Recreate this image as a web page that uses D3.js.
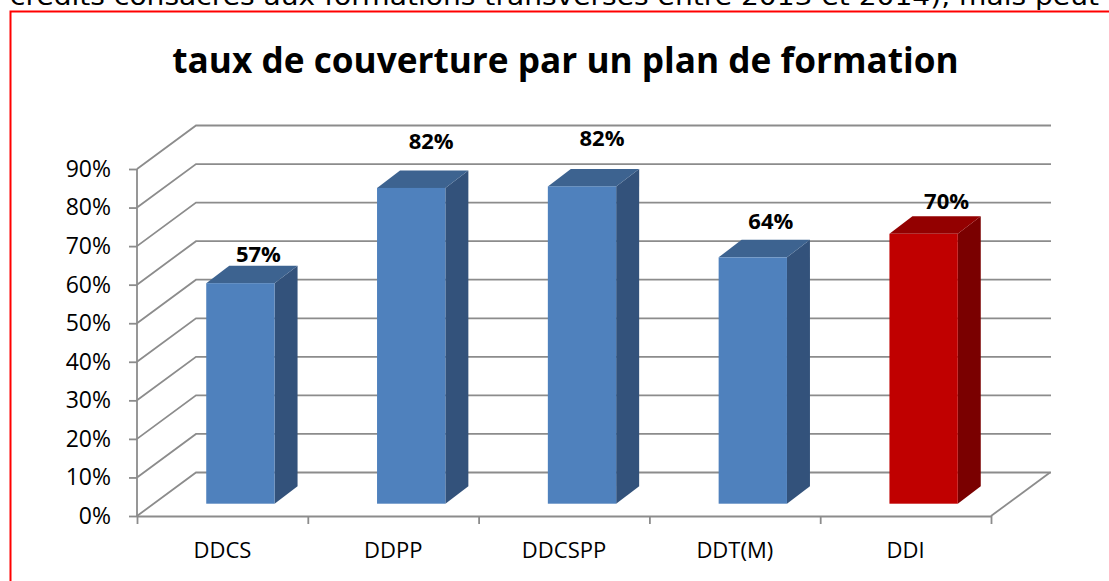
<!DOCTYPE html>
<html lang="fr">
<head>
  <meta charset="UTF-8">
  <title>taux de couverture par un plan de formation</title>
  <script src="https://d3js.org/d3.v7.min.js"></script>
  <style>
    body { margin: 0; background: #fff; overflow: hidden; }
    svg { display: block; }
    text { font-family: "Open Sans", sans-serif; fill: #000; }
    .grid { stroke: #8c8c8c; stroke-width: 1.8px; fill: none; }
    .axis path, .axis line { stroke: #8c8c8c; stroke-width: 1.8px; }
    .axis text { font-family: "Open Sans", sans-serif; fill: #000; }
    .y-axis text { font-size: 23px; }
    .x-axis text { font-size: 22px; }
    .value { font-size: 22px; font-weight: 700; text-anchor: middle; }
  </style>
</head>
<body>
  <svg width="1109" height="581"></svg>
  <script>
    const categories = ["DDCS", "DDPP", "DDCSPP", "DDT(M)", "DDI"];
    const values = [57.2, 81.9, 82.3, 63.9, 70];
    const valueLabels = ["57%", "82%", "82%", "64%", "70%"];
    const barKinds = ["blue", "blue", "blue", "blue", "red"];
    const yTicks = [0, 10, 20, 30, 40, 50, 60, 70, 80, 90];

    const title = "taux de couverture par un plan de formation";
    const bodyLine = "crédits consacrés aux formations transverses entre 2013 et 2014), mais peut";

    const colors = {
      blue: { front: "#4f81bd", top: "#3d6390", side: "#33527b" },
      red: { front: "#c00000", top: "#930000", side: "#7a0000" }
    };

    const svg = d3.select("svg");

    // front plane of the fake 3d box, back wall is shifted by depth
    const left = 137, right = 991, baseY = 516, topY = 169;
    const depth = { x: 59, y: -43.5 };
    const barDepth = { x: 23, y: -17.5 };
    const barFloor = { x: 18, y: -12.3 };

    // labels in the original sit at uneven spots over the bars
    const labelNudge = [[18, -21], [20, -39], [20, -40], [18, -28], [23, -25]];

    const x = d3.scaleBand().domain(categories).range([left, right]).paddingInner(0.6).paddingOuter(0.3);
    const xEdges = d3.scaleLinear().domain([0, categories.length]).range([left, right]);
    const y = d3.scaleLinear().domain([0, 90]).range([baseY, topY]);

    // text behind the chart, cut by the window
    svg.append("text")
      .attr("x", 10)
      .attr("y", 5)
      .attr("textLength", 1089)
      .attr("lengthAdjust", "spacingAndGlyphs")
      .style("font-family", "DejaVu Sans")
      .style("font-size", "24px")
      .text(bodyLine);

    // red frame, only top and left are in the crop
    svg.append("path")
      .attr("d", "M1109,11.5H10.5V581")
      .attr("fill", "none")
      .attr("stroke", "#ff0000")
      .attr("stroke-width", 2);

    svg.append("text")
      .attr("x", 565.5)
      .attr("y", 73)
      .attr("text-anchor", "middle")
      .style("font-size", "35.2px")
      .style("font-weight", 700)
      .text(title);

    // walls
    svg.append("g").selectAll("path")
      .data(yTicks)
      .join("path")
      .attr("class", "grid")
      .attr("d", d => `M${left},${y(d)}L${left + depth.x},${y(d) + depth.y}H${right + depth.x + 1}`);

    // floor edge on the right
    svg.append("line")
      .attr("class", "grid")
      .attr("x1", right).attr("y1", y(0))
      .attr("x2", right + depth.x).attr("y2", y(0) + depth.y);

    const yAxis = svg.append("g")
      .attr("class", "axis y-axis")
      .attr("transform", `translate(${left},0)`)
      .call(d3.axisLeft(y).tickValues(yTicks).tickSize(8).tickPadding(18).tickFormat(d => d + "%"));
    yAxis.select(".domain").attr("d", `M0,${y(90)}V${y(0)}`);

    svg.append("g")
      .attr("class", "axis")
      .attr("transform", `translate(0,${baseY})`)
      .call(d3.axisBottom(xEdges).ticks(categories.length).tickSize(8).tickSizeOuter(0).tickFormat(""));

    const xLabels = svg.append("g")
      .attr("class", "axis x-axis")
      .attr("transform", `translate(0,${baseY})`)
      .call(d3.axisBottom(x).tickSize(0).tickPadding(26));
    xLabels.select(".domain").remove();

    // bars, built from front face + top + side
    const bars = svg.append("g").selectAll("g")
      .data(categories.map((c, i) => ({ c, v: values[i], kind: barKinds[i], label: valueLabels[i], nudge: labelNudge[i] })))
      .join("g");

    const bx = d => x(d.c) + barFloor.x;
    const bw = x.bandwidth();
    const floorY = y(0) + barFloor.y;
    const topOf = d => y(d.v) + barFloor.y;

    bars.append("path")
      .attr("fill", d => colors[d.kind].side)
      .attr("d", d => `M${bx(d) + bw},${topOf(d)}l${barDepth.x},${barDepth.y}V${floorY + barDepth.y}l${-barDepth.x},${-barDepth.y}Z`);

    bars.append("path")
      .attr("fill", d => colors[d.kind].top)
      .attr("d", d => `M${bx(d)},${topOf(d)}l${barDepth.x},${barDepth.y}h${bw}l${-barDepth.x},${-barDepth.y}Z`);

    bars.append("rect")
      .attr("fill", d => colors[d.kind].front)
      .attr("x", bx)
      .attr("y", topOf)
      .attr("width", bw)
      .attr("height", d => floorY - topOf(d));

    bars.append("text")
      .attr("class", "value")
      .attr("x", d => bx(d) + bw / 2 + d.nudge[0])
      .attr("y", d => topOf(d) + d.nudge[1])
      .text(d => d.label);
  </script>
</body>
</html>
